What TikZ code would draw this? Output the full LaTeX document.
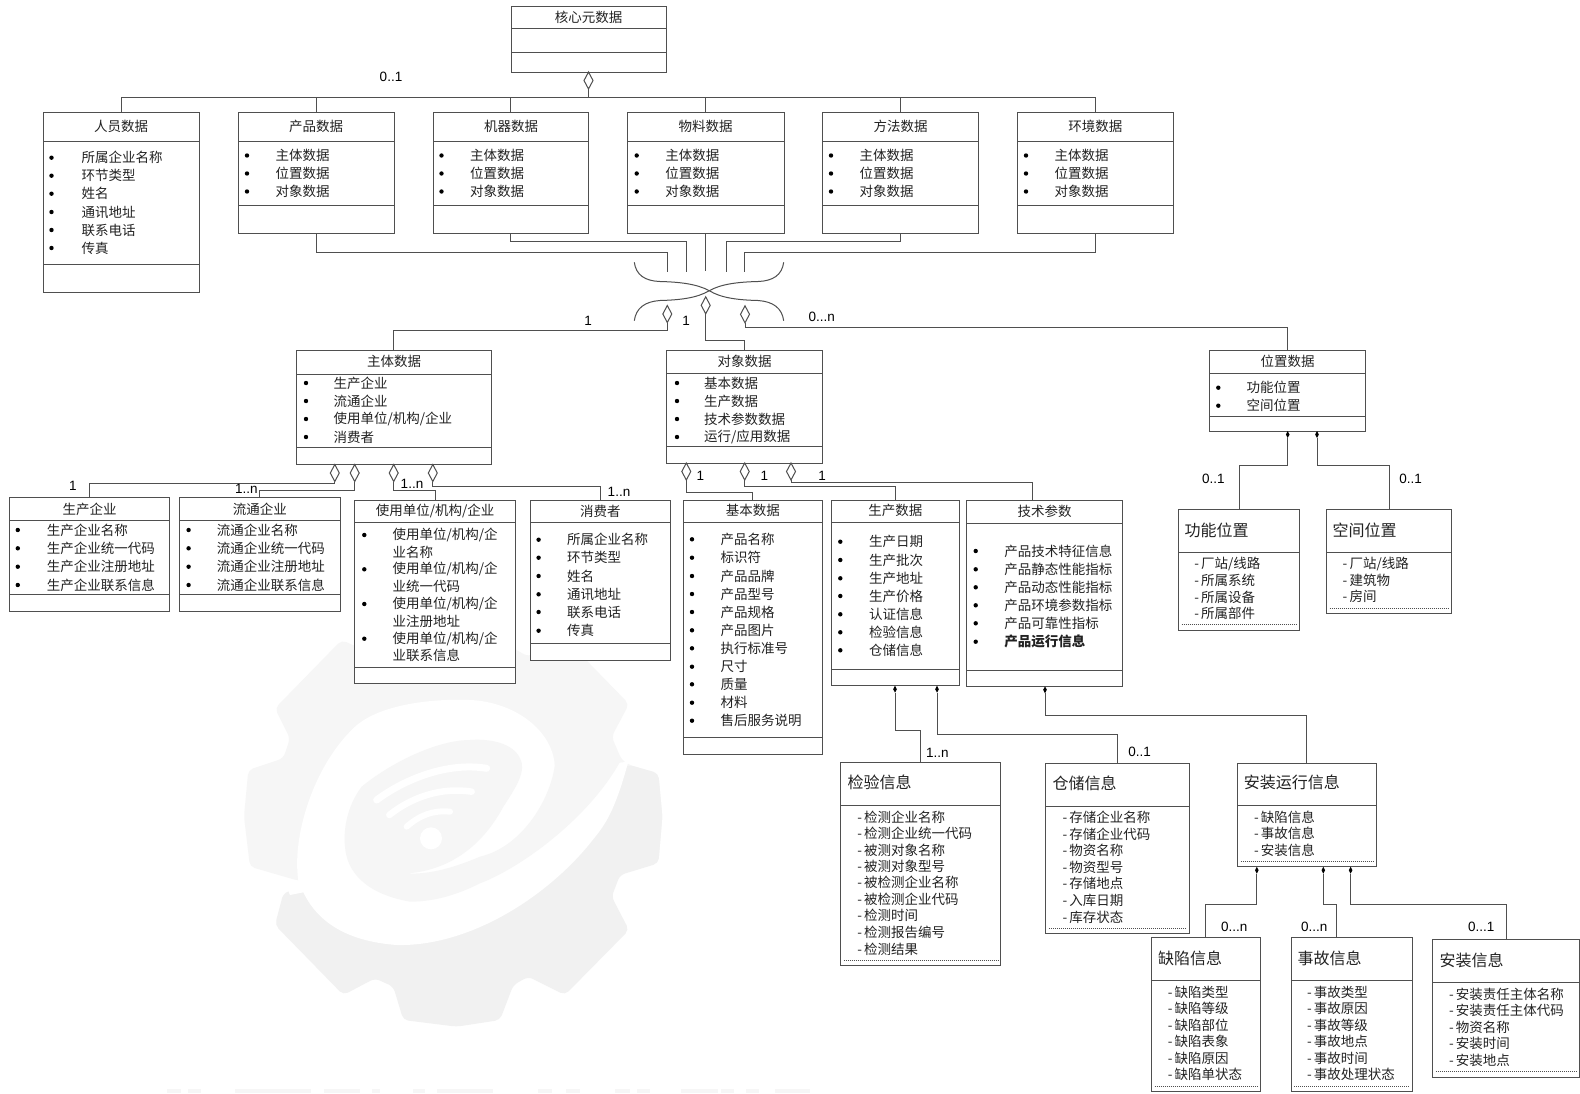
\documentclass[tikz,border=0pt]{standalone}
\usepackage{fontspec}
\setmainfont{Noto Sans CJK SC}
\newfontfamily\latinfont{Liberation Sans}
\usetikzlibrary{shapes.geometric}
\definecolor{linecol}{HTML}{4F4F4F}
\definecolor{textcol}{HTML}{222222}
\definecolor{wmup}{HTML}{F6F6F6}
\definecolor{wmlow}{HTML}{F1F1F1}
\newcounter{tn}
\tikzset{
  umlbox/.style={draw=linecol,fill=white,line width=1pt,rectangle,inner sep=0pt,outer sep=0pt},
  boxline/.style={draw=linecol,line width=1pt},
  conn/.style={draw=linecol,line width=1pt},
  dotline/.style={draw=linecol,line width=0.9pt,dash pattern=on 1pt off 1pt},
  txt/.style={inner sep=0pt,outer sep=0pt,text=textcol,font=\fontsize{13.5}{16}\selectfont},
  bigtxt/.style={inner sep=0pt,outer sep=0pt,text=textcol,font=\fontsize{16}{19}\selectfont},
  lab/.style={inner sep=0pt,outer sep=0pt,text=black,font=\latinfont\fontsize{13.5}{16}\selectfont},
  bul/.style={circle,fill=black,inner sep=0pt,outer sep=0pt,minimum size=4.4pt},
  hdia/.style={diamond,draw=linecol,fill=white,line width=1pt,inner sep=0pt,outer sep=0pt,minimum width=9pt,minimum height=17pt},
  fdia/.style={diamond,fill=black,inner sep=0pt,outer sep=0pt,minimum width=3.6pt,minimum height=7pt},
}
\newcommand\umlnode[5]{%
  \pgfmathsetlengthmacro\bw{(#4-#2)*1pt}\pgfmathsetlengthmacro\bh{(#5-#3)*1pt}%
  \node[umlbox,minimum width=\bw,minimum height=\bh,anchor=north west] (#1) at (#2,#3) {};}
\newcommand\sepl[2]{\draw[boxline] (#1.west |- 0,#2) -- (#1.east |- 0,#2);}
\newcommand\dotl[2]{\draw[dotline] ([xshift=3pt]#1.west |- 0,#2) -- ([xshift=-3pt]#1.east |- 0,#2);}
\newcommand\ttl[3]{\stepcounter{tn}\node[txt] (t\thetn) at (#1,#2) {#3};}
\newcommand\bigttl[3]{\stepcounter{tn}\node[bigtxt,anchor=west] (t\thetn) at (#1,#2) {#3};}
\newcommand\bitem[4]{\stepcounter{tn}\node[bul] (b\thetn) at (#1,#3) {};\node[txt,anchor=west] (t\thetn) at (#2,#3) {#4};}
\newcommand\pitem[3]{\stepcounter{tn}\node[txt,anchor=west] (t\thetn) at (#1,#2) {#3};}
\newcommand\ditem[3]{\stepcounter{tn}\node[txt,anchor=west] (t\thetn) at (#1,#2) {-\kern2.2pt #3};}
\newcommand\lbl[3]{\stepcounter{tn}\node[lab] (l\thetn) at (#1,#2) {#3};}
% connector: straight down from #1 to height #2, across, then down to #3
\newcommand\elbow[3]{\draw[conn] (#1) -- (#1 |- 0,#2) -| (#3);}
\begin{document}
\begin{tikzpicture}[x=1pt,y=-1pt]
\fill[white] (0,0) rectangle (1580,1093);
\useasboundingbox (0,0) rectangle (1580,1093);
% ---------- watermark ----------
\begin{scope}[shift={(230,630)},x=0.33333pt,y=-0.33333pt]
  \fill[wmup,rounded corners=5pt] (335,30) -- (135,235) -- (180,325) -- (160,385) -- (55,420) -- (42,560) -- (60,710)
     -- (205,752) -- (1285,700) -- (1297,560) -- (1285,430) -- (1198,405) -- (1175,390) -- (1145,320) -- (1197,222)
     -- (1005,25) -- (895,80) -- (850,55) -- (810,-50) -- (680,-70) -- (520,-50) -- (490,50) -- (435,75) -- cycle;
  \fill[wmlow,rounded corners=5pt] (160,790) -- (135,885) -- (340,1095) -- (435,1045) -- (490,1070) -- (520,1170) -- (680,1190)
     -- (810,1170) -- (850,1065) -- (895,1040) -- (1005,1095) -- (1197,900) -- (1145,800) -- (1170,735) -- (1285,700)
     -- (1297,560) -- (1285,430) -- (1198,405) -- cycle;
  % white band with tail
  \fill[white] (170,772) -- (205,752) .. controls (185,620) and (250,410) .. (370,295)
     .. controls (440,225) and (600,205) .. (720,210) .. controls (850,215) and (975,300) .. (975,420)
     -- (1195,395) .. controls (1150,560) and (1120,590) .. (1080,640) .. controls (950,800) and (720,950) .. (500,945)
     .. controls (370,935) and (270,890) .. (220,787) -- (180,795) -- cycle;
  % grey spiral: blob and arm
  \fill[wmup] (975,400) .. controls (965,500) and (880,650) .. (750,680) .. controls (680,710) and (600,735) .. (530,730)
     .. controls (620,725) and (740,680) .. (820,530) .. controls (860,470) and (890,420) .. (870,385)
     .. controls (850,340) and (780,325) .. (720,330) .. controls (620,330) and (480,400) .. (395,470)
     .. controls (350,530) and (340,600) .. (345,650) .. controls (350,720) and (400,790) .. (540,815)
     .. controls (620,815) and (690,790) .. (750,760) .. controls (880,710) and (1080,560) .. (1172,392) -- (1100,380) -- cycle;
  % wifi arcs
  \draw[white,line width=7pt,line cap=round] (440,510) .. controls (520,450) and (650,395) .. (770,415);
  \draw[white,line width=6.5pt,line cap=round] (478,555) .. controls (540,505) and (630,470) .. (725,485);
  \draw[white,line width=6pt,line cap=round] (530,590) .. controls (570,555) and (610,540) .. (660,545);
  \fill[white] (603,625) circle (33);
\end{scope}
\foreach \a/\b in {167/181,188/201,235/311,324/360,372/380,413/425,437/493,538/552,566/580,615/630,637/650,681/718,721/734,746/759,775/810}
  \fill[wmup] (\a,1088.5) rectangle (\b,1093);
% ---------- boxes ----------
\umlnode{core}{511}{6.5}{666.5}{72}
\sepl{core}{28.7}\sepl{core}{52.3}
\ttl{588.5}{17.5}{核心元数据}
\umlnode{ry}{43}{112}{199}{292}
\sepl{ry}{141}\sepl{ry}{264.5}
\ttl{121}{126}{人员数据}
\umlnode{cp}{238}{112}{394}{233}
\sepl{cp}{141}\sepl{cp}{205.7}
\ttl{316}{126}{产品数据}
\umlnode{jq}{433}{112}{588.5}{233}
\sepl{jq}{141}\sepl{jq}{205.7}
\ttl{511}{126}{机器数据}
\umlnode{wl}{627.5}{112}{784}{233}
\sepl{wl}{141}\sepl{wl}{205.7}
\ttl{705.7}{126}{物料数据}
\umlnode{ff}{822.3}{112}{978.7}{233}
\sepl{ff}{141}\sepl{ff}{205.7}
\ttl{900.5}{126}{方法数据}
\umlnode{hj}{1017.3}{112}{1173.3}{233}
\sepl{hj}{141}\sepl{hj}{205.7}
\ttl{1095.3}{126}{环境数据}
\bitem{51.5}{81.6}{157.7}{所属企业名称}
\bitem{51.5}{81.6}{175.7}{环节类型}
\bitem{51.5}{81.6}{193.7}{姓名}
\bitem{51.5}{81.6}{212}{通讯地址}
\bitem{51.5}{81.6}{230}{联系电话}
\bitem{51.5}{81.6}{248}{传真}
\foreach \l in {247,441.5,636.7,831,1026}{
  \pgfmathsetmacro\tx{\l+28.7}
  \bitem{\l}{\tx}{155.5}{主体数据}
  \bitem{\l}{\tx}{173.5}{位置数据}
  \bitem{\l}{\tx}{191.5}{对象数据}
}
\umlnode{zt}{296.6}{350.5}{491.3}{464}
\sepl{zt}{374}\sepl{zt}{447}
\ttl{394}{361}{主体数据}
\bitem{306}{333.5}{383}{生产企业}
\bitem{306}{333.5}{401}{流通企业}
\bitem{306}{333.5}{419}{使用单位/机构/企业}
\bitem{306}{333.5}{437}{消费者}
\umlnode{dx}{666.7}{350}{822.7}{463.5}
\sepl{dx}{373.3}\sepl{dx}{446.5}
\ttl{744.7}{361}{对象数据}
\bitem{677}{704}{383}{基本数据}
\bitem{677}{704}{401}{生产数据}
\bitem{677}{704}{419}{技术参数数据}
\bitem{677}{704}{437}{运行/应用数据}
\umlnode{wz}{1209.7}{350}{1365.7}{431}
\sepl{wz}{373.3}\sepl{wz}{416.3}
\ttl{1287.7}{361.7}{位置数据}
\bitem{1218.3}{1246.7}{387.7}{功能位置}
\bitem{1218.3}{1246.7}{405.7}{空间位置}
\umlnode{scqy}{9.5}{497.7}{169.6}{611.3}
\sepl{scqy}{520.3}\sepl{scqy}{594.3}
\ttl{89.5}{509.7}{生产企业}
\bitem{17.8}{46.8}{530}{生产企业名称}
\bitem{17.8}{46.8}{548.3}{生产企业统一代码}
\bitem{17.8}{46.8}{566.7}{生产企业注册地址}
\bitem{17.8}{46.8}{585}{生产企业联系信息}
\umlnode{ltqy}{179.5}{497.7}{340}{611.3}
\sepl{ltqy}{520.3}\sepl{ltqy}{594.3}
\ttl{259.8}{509.7}{流通企业}
\bitem{188.6}{216.8}{530}{流通企业名称}
\bitem{188.6}{216.8}{548.3}{流通企业统一代码}
\bitem{188.6}{216.8}{566.7}{流通企业注册地址}
\bitem{188.6}{216.8}{585}{流通企业联系信息}
\umlnode{sy}{354.7}{500}{515.6}{683.7}
\sepl{sy}{522.3}\sepl{sy}{667}
\ttl{435.2}{511.3}{使用单位/机构/企业}
\bitem{364.3}{392.5}{535}{使用单位/机构/企}
\pitem{392.5}{552}{业名称}
\bitem{364.3}{392.5}{569.3}{使用单位/机构/企}
\pitem{392.5}{586}{业统一代码}
\bitem{364.3}{392.5}{604}{使用单位/机构/企}
\pitem{392.5}{621}{业注册地址}
\bitem{364.3}{392.5}{638.7}{使用单位/机构/企}
\pitem{392.5}{655.7}{业联系信息}
\umlnode{xf}{530.8}{500.3}{670}{660.3}
\sepl{xf}{522.7}\sepl{xf}{643.7}
\ttl{600.4}{511.5}{消费者}
\bitem{538.6}{567}{539.7}{所属企业名称}
\bitem{538.6}{567}{557.7}{环节类型}
\bitem{538.6}{567}{576}{姓名}
\bitem{538.6}{567}{594.3}{通讯地址}
\bitem{538.6}{567}{612}{联系电话}
\bitem{538.6}{567}{630.7}{传真}
\umlnode{jb}{683}{500}{822.7}{754}
\sepl{jb}{522.3}\sepl{jb}{737.3}
\ttl{752.9}{510.3}{基本数据}
\bitem{692}{720.7}{539.3}{产品名称}
\bitem{692}{720.7}{557.7}{标识符}
\bitem{692}{720.7}{576}{产品品牌}
\bitem{692}{720.7}{594}{产品型号}
\bitem{692}{720.7}{612}{产品规格}
\bitem{692}{720.7}{630.3}{产品图片}
\bitem{692}{720.7}{648.3}{执行标准号}
\bitem{692}{720.7}{666.7}{尺寸}
\bitem{692}{720.7}{684.3}{质量}
\bitem{692}{720.7}{702.7}{材料}
\bitem{692}{720.7}{720.7}{售后服务说明}
\umlnode{sc}{831.7}{500}{959}{685.7}
\sepl{sc}{522.7}\sepl{sc}{669.3}
\ttl{895.4}{510.3}{生产数据}
\bitem{840.3}{869}{541.7}{生产日期}
\bitem{840.3}{869}{560}{生产批次}
\bitem{840.3}{869}{578.3}{生产地址}
\bitem{840.3}{869}{596}{生产价格}
\bitem{840.3}{869}{614.3}{认证信息}
\bitem{840.3}{869}{632.3}{检验信息}
\bitem{840.3}{869}{650.3}{仓储信息}
\umlnode{js}{966.7}{500.7}{1122.7}{686.3}
\sepl{js}{523.3}\sepl{js}{670}
\ttl{1044.7}{511.3}{技术参数}
\bitem{975.7}{1004.3}{551}{产品技术特征信息}
\bitem{975.7}{1004.3}{569.3}{产品静态性能指标}
\bitem{975.7}{1004.3}{587.3}{产品动态性能指标}
\bitem{975.7}{1004.3}{605.3}{产品环境参数指标}
\bitem{975.7}{1004.3}{623.3}{产品可靠性指标}
\bitem{975.7}{1004.3}{641.7}{\bfseries 产品运行信息}
\umlnode{gn}{1178.7}{509.3}{1299.3}{630.7}
\sepl{gn}{552.7}\dotl{gn}{624.3}
\bigttl{1184.7}{530.7}{功能位置}
\ditem{1194.3}{564.3}{厂站/线路}
\ditem{1194.3}{580.7}{所属系统}
\ditem{1194.3}{597}{所属设备}
\ditem{1194.3}{613.3}{所属部件}
\umlnode{kj}{1326.7}{509.3}{1451.3}{613.7}
\sepl{kj}{552}\dotl{kj}{608}
\bigttl{1332.7}{530.7}{空间位置}
\ditem{1342.7}{563.7}{厂站/线路}
\ditem{1342.7}{580}{建筑物}
\ditem{1342.7}{596.3}{房间}
\umlnode{jy}{840.5}{762.7}{1000.8}{965.7}
\sepl{jy}{805.7}\dotl{jy}{960}
\bigttl{847.7}{782.7}{检验信息}
\ditem{857.3}{817.3}{检测企业名称}
\ditem{857.3}{833.3}{检测企业统一代码}
\ditem{857.3}{850}{被测对象名称}
\ditem{857.3}{866}{被测对象型号}
\ditem{857.3}{882.7}{被检测企业名称}
\ditem{857.3}{899}{被检测企业代码}
\ditem{857.3}{915.7}{检测时间}
\ditem{857.3}{932}{检测报告编号}
\ditem{857.3}{949}{检测结果}
\umlnode{cc}{1045.8}{763.3}{1189.3}{933.7}
\sepl{cc}{806.3}\dotl{cc}{928}
\bigttl{1052.5}{783.3}{仓储信息}
\ditem{1062.5}{817.7}{存储企业名称}
\ditem{1062.5}{834.7}{存储企业代码}
\ditem{1062.5}{850.7}{物资名称}
\ditem{1062.5}{867}{物资型号}
\ditem{1062.5}{883.7}{存储地点}
\ditem{1062.5}{900.3}{入库日期}
\ditem{1062.5}{917}{库存状态}
\umlnode{az}{1237.7}{763}{1376}{866.7}
\sepl{az}{805.7}\dotl{az}{861}
\bigttl{1243.9}{782.7}{安装运行信息}
\ditem{1254}{817}{缺陷信息}
\ditem{1254}{833.3}{事故信息}
\ditem{1254}{850}{安装信息}
\umlnode{qx}{1151.5}{937.7}{1260}{1091.7}
\sepl{qx}{980.7}\dotl{qx}{1086}
\bigttl{1158.2}{958.3}{缺陷信息}
\ditem{1167.8}{992.7}{缺陷类型}
\ditem{1167.8}{1008.7}{缺陷等级}
\ditem{1167.8}{1025.3}{缺陷部位}
\ditem{1167.8}{1041.7}{缺陷表象}
\ditem{1167.8}{1058.3}{缺陷原因}
\ditem{1167.8}{1074.3}{缺陷单状态}
\umlnode{sg}{1291.2}{937.7}{1412.8}{1091.7}
\sepl{sg}{980.7}\dotl{sg}{1086}
\bigttl{1297.5}{958.3}{事故信息}
\ditem{1307}{992.7}{事故类型}
\ditem{1307}{1008.7}{事故原因}
\ditem{1307}{1025.3}{事故等级}
\ditem{1307}{1041.7}{事故地点}
\ditem{1307}{1058.3}{事故时间}
\ditem{1307}{1074.3}{事故处理状态}
\umlnode{azx}{1432.9}{939.7}{1579.5}{1077.3}
\sepl{azx}{982.7}\dotl{azx}{1071.3}
\bigttl{1439.6}{960}{安装信息}
\ditem{1449}{994.3}{安装责任主体名称}
\ditem{1449}{1010.7}{安装责任主体代码}
\ditem{1449}{1027}{物资名称}
\ditem{1449}{1043.3}{安装时间}
\ditem{1449}{1060}{安装地点}
% ---------- connectors: top ----------
\node[hdia] (dcore) at (588.5,80.5) {};
\coordinate (bus) at (588.5,97.3);
\draw[conn] (dcore.south) -- (bus);
\foreach \t in {ry,cp,jq,wl,ff,hj} \draw[conn] (bus) -| (\t.north);
% ---------- hub ----------
\coordinate (hub) at (709.3,290.7);
\coordinate (i1) at (667,272);\coordinate (i2) at (686.3,272);\coordinate (i3) at (705.7,271);
\coordinate (i4) at (726,272);\coordinate (i5) at (744.3,272);
\elbow{cp.south}{252.7}{i1}
\elbow{jq.south}{241.3}{i2}
\draw[conn] (wl.south) -- (wl.south |- i3);
\elbow{ff.south}{241.3}{i4}
\elbow{hj.south}{252.7}{i5}
\draw[conn] (634.3,262.3) .. controls (636,275) and (645,281) .. (660,281.5) .. controls (680,282) and (697,284) .. (hub);
\draw[conn] (783.7,262.3) .. controls (782,275) and (773,281) .. (758,281.5) .. controls (738,282) and (721,284) .. (hub);
\draw[conn] (634.3,320.7) .. controls (636,308) and (645,301.5) .. (660,300.5) .. controls (680,300) and (697,298) .. (hub);
\draw[conn] (783.7,320.7) .. controls (782,308) and (773,301.5) .. (758,300.5) .. controls (738,300) and (721,298) .. (hub);
\node[hdia] (dzt) at (667.3,314) {};
\node[hdia] (ddx) at (705.7,305.3) {};
\node[hdia] (dwz) at (745,314.3) {};
\elbow{dzt.south}{330}{zt.north}
\elbow{ddx.south}{340.3}{dx.north}
\elbow{dwz.south}{327.7}{wz.north}
% ---------- under 主体 ----------
\foreach \n/\x in {a/334.8,b/354.7,c/393.7,d/432.8} \node[hdia] (dz\n) at (\x,473) {};
\elbow{dza.south}{483.3}{scqy.north}
\elbow{dzb.south}{490.7}{ltqy.north}
\elbow{dzc.south}{490.7}{sy.north}
\elbow{dzd.south}{486.7}{xf.north}
% ---------- under 对象 ----------
\foreach \n/\x in {a/686.3,b/744.7,c/791} \node[hdia] (do\n) at (\x,471.5) {};
\coordinate (jstop) at (1032.3,500.7);
\elbow{doa.south}{492.7}{jb.north}
\elbow{dob.south}{486.7}{sc.north}
\elbow{doc.south}{482.3}{jstop}
% ---------- filled diamonds ----------
\node[fdia] (fa) at (1287.7,434.5) {};
\node[fdia] (fb) at (1317,434.5) {};
\elbow{fa.south}{465}{gn.north}
\elbow{fb.south}{465}{kj.north}
\node[fdia] (fc) at (895,689.2) {};
\node[fdia] (fd) at (937,689.2) {};
\node[fdia] (fe) at (1045,689.8) {};
\elbow{fc.south}{730}{jy.north}
\elbow{fd.south}{734}{cc.north}
\elbow{fe.south}{715.3}{az.north}
\node[fdia] (ff1) at (1256.8,870.2) {};
\node[fdia] (ff2) at (1323.3,870.2) {};
\node[fdia] (ff3) at (1350.6,870.2) {};
\coordinate (sgtop) at (1336.7,937.7);
\elbow{ff1.south}{904.7}{qx.north}
\elbow{ff2.south}{904.7}{sgtop}
\elbow{ff3.south}{904.7}{azx.north}
% ---------- labels ----------
\lbl{391}{77}{0..1}
\lbl{588}{320.7}{1}
\lbl{686}{320.7}{1}
\lbl{821.7}{317}{0...n}
\lbl{72.9}{486}{1}
\lbl{246.3}{489.3}{1..n}
\lbl{412}{484.3}{1..n}
\lbl{619}{492}{1..n}
\lbl{700.3}{475.7}{1}
\lbl{764.3}{475.7}{1}
\lbl{822}{475.7}{1}
\lbl{1213.3}{479.3}{0..1}
\lbl{1410.7}{479.3}{0..1}
\lbl{937.3}{753.3}{1..n}
\lbl{1139.6}{752}{0..1}
\lbl{1234.3}{927.3}{0...n}
\lbl{1314.2}{927.3}{0...n}
\lbl{1481.2}{927.3}{0...1}
\end{tikzpicture}
\end{document}
